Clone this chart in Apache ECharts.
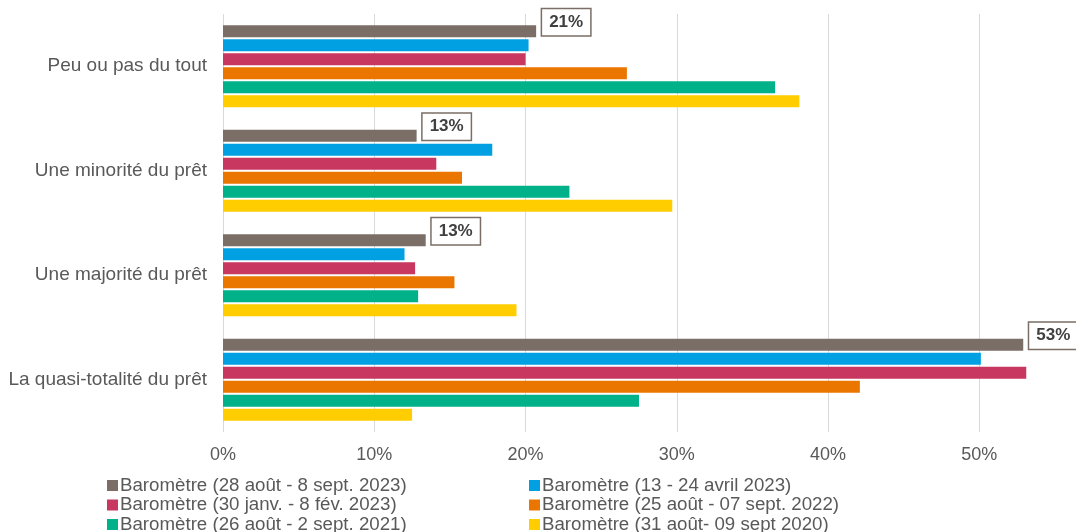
<!DOCTYPE html>
<html>
<head>
<meta charset="utf-8">
<script src="https://cdn.jsdelivr.net/npm/echarts@6/dist/echarts.min.js"></script>
<style>
  html, body { margin: 0; padding: 0; background: #fff; }
  #chart { width: 1076px; height: 532px; }
</style>
</head>
<body>
<div id="chart"></div>
<script>
// categories, top to bottom
var categories = ['Peu ou pas du tout', 'Une minorité du prêt', 'Une majorité du prêt', 'La quasi-totalité du prêt'];

var seriesNames = [
  'Baromètre (28 août - 8 sept. 2023)',
  'Baromètre (13 - 24 avril 2023)',
  'Baromètre (30 janv. - 8 fév. 2023)',
  'Baromètre (25 août - 07 sept. 2022)',
  'Baromètre (26 août - 2 sept. 2021)',
  'Baromètre (31 août- 09 sept 2020)'
];

// values in %
var sept2023 = [20.7, 12.8, 13.4, 52.9];
var avr2023  = [20.2, 17.8, 12.0, 50.1];
var fev2023  = [20.0, 14.1, 12.7, 53.1];
var sept2022 = [26.7, 15.8, 15.3, 42.1];
var sept2021 = [36.5, 22.9, 12.9, 27.5];
var sept2020 = [38.1, 29.7, 19.4, 12.5];

var colors = ['#7a6e66', '#00a0e2', '#c8375f', '#ea7600', '#00b189', '#ffcd00'];
var font = '"Liberation Sans", Arial, sans-serif';

var allData = [sept2023, avr2023, fev2023, sept2022, sept2021, sept2020];

var series = allData.map(function (d, i) {
  var s = {
    name: seriesNames[i],
    type: 'bar',
    data: d,
    barWidth: 12,
    barGap: '17%',
    barCategoryGap: '20%',
    itemStyle: { color: colors[i] }
  };
  if (i === 0) {
    s.label = {
      show: true,
      position: 'right',
      distance: 6,
      offset: [0, -9],
      formatter: function (p) { return Math.round(p.value) + '%'; },
      fontFamily: font,
      fontWeight: 'bold',
      fontSize: 17,
      color: '#404040',
      backgroundColor: '#fff',
      borderColor: '#7a6e66',
      borderWidth: 1.5,
      padding: [5, 7, 4, 7]
    };
  }
  return s;
});

function legendCol(left, names) {
  return {
    orient: 'vertical',
    left: left,
    top: 476,
    height: 60,
    padding: 0,
    itemWidth: 11,
    itemHeight: 11,
    itemGap: 0.5,
    icon: 'rect',
    data: names,
    textStyle: { fontFamily: font, fontSize: 18.7, lineHeight: 18, color: '#595959', padding: [0, 0, 0, -3] }
  };
}

var myChart = echarts.init(document.getElementById('chart'));

var option = {
  animation: false,
  color: colors,
  grid: { left: 223, right: 21, top: 14, height: 418 },
  legend: [
    legendCol(107, [seriesNames[0], seriesNames[2], seriesNames[4]]),
    legendCol(529, [seriesNames[1], seriesNames[3], seriesNames[5]])
  ],
  xAxis: {
    type: 'value',
    min: 0,
    max: 55,
    interval: 10,
    axisLine: { show: false },
    axisTick: { show: false },
    axisLabel: {
      formatter: function (v) { return v > 50 ? '' : v + '%'; },
      fontFamily: font,
      fontSize: 18,
      color: '#595959',
      margin: 14
    },
    splitLine: { show: true, showMaxLine: false, lineStyle: { color: '#d9d9d9', width: 1 } }
  },
  yAxis: {
    type: 'category',
    inverse: true,
    data: categories,
    axisLine: { show: false },
    axisTick: { show: false },
    axisLabel: {
      fontFamily: font,
      fontSize: 19,
      color: '#595959',
      margin: 16
    }
  },
  series: series
};

myChart.setOption(option);
window.addEventListener('resize', function () { myChart.resize(); });
</script>
</body>
</html>
